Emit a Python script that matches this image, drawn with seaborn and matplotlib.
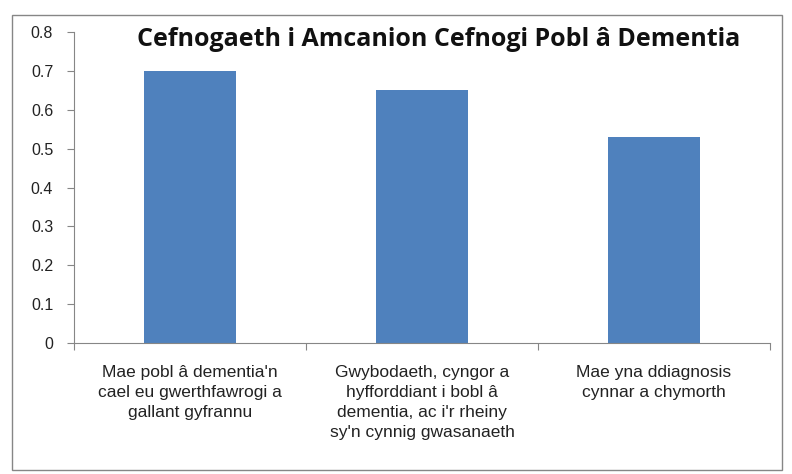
import seaborn as sns
import matplotlib.pyplot as plt
import pandas as pd
from matplotlib.patches import Rectangle

# Chart data
categories = [
    "Mae pobl â dementia'n\ncael eu gwerthfawrogi a\ngallant gyfrannu",
    "Gwybodaeth, cyngor a\nhyfforddiant i bobl â\ndementia, ac i'r rheiny\nsy'n cynnig gwasanaeth",
    "Mae yna ddiagnosis\ncynnar a chymorth",
]
values = [0.70, 0.65, 0.53]
yticks = [0, 0.1, 0.2, 0.3, 0.4, 0.5, 0.6, 0.7, 0.8]
ytick_labels = ["0", "0.1", "0.2", "0.3", "0.4", "0.5", "0.6", "0.7", "0.8"]
title = "Cefnogaeth i Amcanion Cefnogi Pobl â Dementia"

df = pd.DataFrame({'category': categories, 'value': values})

sns.set_style('white')
plt.rcParams['font.family'] = ['Liberation Sans', 'DejaVu Sans']

fig = plt.figure(figsize=(7.92, 4.74), dpi=100)
ax = fig.add_axes([74 / 792, 1 - 343 / 474, 696 / 792, 311 / 474])

sns.barplot(data=df, x='category', y='value', color='#4f81bd', saturation=1,
            width=0.40, linewidth=0, ax=ax)

ax.set_ylim(0, 0.8)
ax.set_xlim(-0.5, 2.5)
ax.set_yticks(yticks)
ax.set_yticklabels(ytick_labels, fontsize=11.5, color='#222222')
ax.set_xlabel('')
ax.set_ylabel('')

# category labels with tick marks at category boundaries
ax.set_xticks([0, 1, 2])
ax.set_xticklabels(categories, fontsize=12.5, color='#222222', linespacing=1.4)
ax.tick_params(axis='x', length=0, pad=16)
ax.set_xticks([-0.5, 0.5, 1.5, 2.5], minor=True)
ax.tick_params(axis='x', which='minor', length=5, color='#868686', width=0.8,
               direction='out', bottom=True)
ax.tick_params(axis='y', length=5, color='#868686', width=0.8, direction='out',
               left=True, pad=10)

for side in ['top', 'right']:
    ax.spines[side].set_visible(False)
for side in ['left', 'bottom']:
    ax.spines[side].set_color('#868686')
    ax.spines[side].set_linewidth(0.8)

fig.text(439 / 792, 1 - 40 / 474, title, ha='center', va='center', fontsize=18,
         fontweight='bold', family=['Open Sans', 'DejaVu Sans'], color='#111111')

# outer chart border
fig.patches.append(Rectangle((12 / 792, 4 / 474), 770 / 792, 455 / 474,
                             transform=fig.transFigure, fill=False,
                             edgecolor='#868686', linewidth=1.0))

plt.savefig('out.png', dpi=100)
